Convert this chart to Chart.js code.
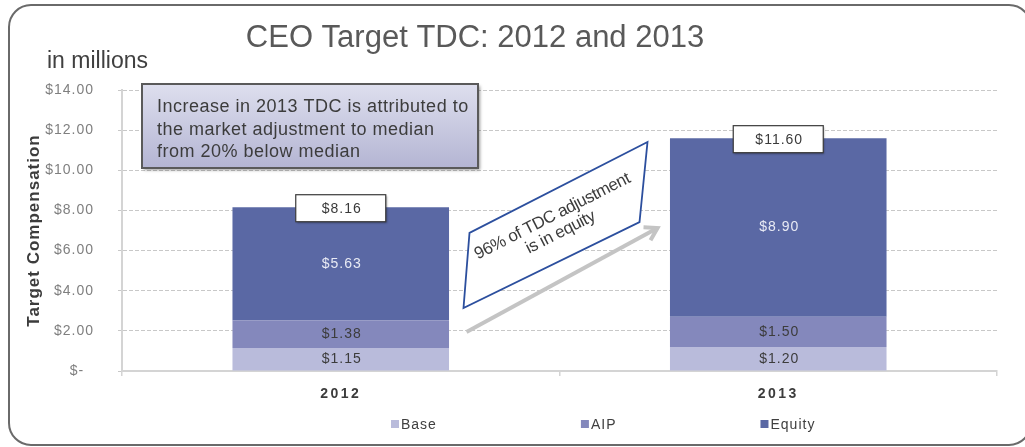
<!DOCTYPE html>
<html><head><meta charset="utf-8">
<script src="https://cdn.jsdelivr.net/npm/chart.js@4.4.0/dist/chart.umd.min.js"></script>
<style>html,body{margin:0;padding:0;background:#fff;overflow:hidden}</style>
</head><body>
<canvas id="c" width="1025" height="447" style="display:block;width:1025px;height:447px"></canvas>
<script>
const categories = ['2012', '2013'];
const seriesNames = ['Base', 'AIP', 'Equity'];
const baseValues = [1.15, 1.20];
const aipValues = [1.38, 1.50];
const equityValues = [5.63, 8.90];
const totalValues = [8.16, 11.60];
const yTickValues = [0, 2, 4, 6, 8, 10, 12, 14];
const titleText = 'CEO Target TDC: 2012 and 2013';
const unitText = 'in millions';
const yAxisTitle = 'Target Compensation';
const noteLines = ['Increase in 2013 TDC is attributed to', 'the market adjustment to median', 'from 20% below median'];
const calloutLines = ['96% of TDC adjustment', 'is in equity'];

const FONT = '"Liberation Sans", Arial, Helvetica, sans-serif';
const colors = ['#b9bbdb', '#8488bc', '#5a68a4'];
const labelColors = ['#3c3c3c', '#3c3c3c', '#e8eaf4'];
const money = v => '$' + v.toFixed(2);

const decor = {
  id: 'decor',
  beforeDraw(chart) {
    const ctx = chart.ctx;
    ctx.save();
    ctx.fillStyle = '#fff';
    ctx.fillRect(0, 0, chart.width, chart.height);
    ctx.strokeStyle = '#6a6a6a';
    ctx.lineWidth = 2;
    ctx.beginPath();
    ctx.roundRect(9, 5, 1022, 440, 22);
    ctx.stroke();
    ctx.restore();
    // letter spacing on axis labels
    ['x', 'y'].forEach(k => {
      const s = chart.scales[k];
      if (!s._patched) {
        const dl = s.drawLabels, dt = s.drawTitle;
        s.drawLabels = function (a) { ctx.save(); ctx.letterSpacing = k === 'x' ? '2.5px' : '1px'; dl.call(this, a); ctx.restore(); };
        s.drawTitle = function (a) { ctx.save(); ctx.letterSpacing = '1px'; dt.call(this, a); ctx.restore(); };
        s._patched = true;
      }
    });
  },
  afterDatasetsDraw(chart) {
    const ctx = chart.ctx;
    const xs = chart.scales.x, ys = chart.scales.y;
    ctx.save();
    // title and unit
    ctx.fillStyle = '#595959';
    ctx.textBaseline = 'alphabetic';
    ctx.textAlign = 'center';
    ctx.font = '31px ' + FONT;
    ctx.fillText(titleText, 475, 47);
    ctx.textAlign = 'left';
    ctx.font = '23px ' + FONT;
    ctx.fillStyle = '#404040';
    ctx.fillText(unitText, 47, 68);

    // segment labels
    ctx.font = '14px ' + FONT;
    ctx.letterSpacing = '1px';
    ctx.textAlign = 'center';
    ctx.textBaseline = 'middle';
    chart.data.datasets.forEach((ds, di) => {
      const meta = chart.getDatasetMeta(di);
      meta.data.forEach((bar, i) => {
        ctx.fillStyle = labelColors[di];
        ctx.fillText(money(ds.data[i]), bar.x + 1, (bar.y + bar.base) / 2);
      });
    });
    // total boxes
    const topMeta = chart.getDatasetMeta(chart.data.datasets.length - 1);
    topMeta.data.forEach((bar, i) => {
      const yTop = ys.getPixelForValue(totalValues[i]);
      const w = 90, h = 27;
      ctx.save();
      ctx.shadowColor = 'rgba(0,0,0,0.35)';
      ctx.shadowBlur = 2; ctx.shadowOffsetX = 1; ctx.shadowOffsetY = 1;
      ctx.fillStyle = '#fff';
      ctx.fillRect(bar.x - w / 2, yTop - h / 2 + 1, w, h);
      ctx.restore();
      ctx.strokeStyle = '#3a3a3a';
      ctx.lineWidth = 1.2;
      ctx.strokeRect(bar.x - w / 2, yTop - h / 2 + 1, w, h);
      ctx.fillStyle = '#3a3a3a';
      ctx.fillText(money(totalValues[i]), bar.x + 1, yTop + 2);
    });
    ctx.letterSpacing = '0px';

    // note box
    const nx = 142, ny = ys.getPixelForValue(14) - 6, nw = 336, nh = 84;
    const g = ctx.createLinearGradient(0, ny, 0, ny + nh);
    g.addColorStop(0, '#dedfee');
    g.addColorStop(1, '#b4b5d3');
    ctx.save();
    ctx.shadowColor = 'rgba(0,0,0,0.4)';
    ctx.shadowBlur = 3; ctx.shadowOffsetX = 2; ctx.shadowOffsetY = 2;
    ctx.fillStyle = g;
    ctx.fillRect(nx, ny, nw, nh);
    ctx.restore();
    ctx.strokeStyle = '#5a5a5a';
    ctx.lineWidth = 2;
    ctx.strokeRect(nx, ny, nw, nh);
    ctx.fillStyle = '#3c3c3c';
    ctx.font = '18px ' + FONT;
    ctx.letterSpacing = '0.5px';
    ctx.textAlign = 'left';
    ctx.textBaseline = 'alphabetic';
    noteLines.forEach((t, i) => ctx.fillText(t, 157, ny + 28 + i * 22.5));
    ctx.letterSpacing = '0px';

    // arrow between categories
    const mid = (xs.getPixelForValue(0) + xs.getPixelForValue(1)) / 2;
    const ax1 = mid - 93, ay1 = ys.getPixelForValue(1.94);
    const ax2 = mid + 98, ay2 = ys.getPixelForValue(7.12);
    ctx.strokeStyle = '#c4c4c4';
    ctx.lineWidth = 4;
    ctx.lineCap = 'butt';
    ctx.beginPath(); ctx.moveTo(ax1, ay1); ctx.lineTo(ax2, ay2); ctx.stroke();
    const ang = Math.atan2(ay2 - ay1, ax2 - ax1);
    ctx.lineJoin = 'miter';
    ctx.beginPath();
    ctx.moveTo(ax2 - 14 * Math.cos(ang - 0.55), ay2 - 14 * Math.sin(ang - 0.55));
    ctx.lineTo(ax2, ay2);
    ctx.lineTo(ax2 - 14 * Math.cos(ang + 0.55), ay2 - 14 * Math.sin(ang + 0.55));
    ctx.stroke();

    // callout parallelogram
    const pts = [[-96, 3.14], [-90, 6.88], [88, 11.41], [80, 7.42]];
    ctx.beginPath();
    pts.forEach((p, i) => {
      const px = mid + p[0], py = ys.getPixelForValue(p[1]);
      i ? ctx.lineTo(px, py) : ctx.moveTo(px, py);
    });
    ctx.closePath();
    ctx.fillStyle = '#fff';
    ctx.fill();
    ctx.strokeStyle = '#2c4f9e';
    ctx.lineWidth = 1.8;
    ctx.stroke();
    ctx.save();
    ctx.translate(mid - 3, ys.getPixelForValue(7.3));
    ctx.rotate(-0.47);
    ctx.fillStyle = '#3c3c3c';
    ctx.font = '17px ' + FONT;
    ctx.letterSpacing = '-0.4px';
    ctx.textAlign = 'center';
    ctx.textBaseline = 'middle';
    ctx.fillText(calloutLines[0], 0, -9);
    ctx.fillText(calloutLines[1], 0, 9);
    ctx.restore();

    // legend
    ctx.font = '14px ' + FONT;
    ctx.letterSpacing = '1px';
    ctx.textBaseline = 'middle';
    ctx.textAlign = 'left';
    let lx = 391;
    const ly = 424;
    chart.data.datasets.forEach((ds, di) => {
      ctx.fillStyle = ds.backgroundColor;
      ctx.fillRect(lx, ly - 4, 8, 8);
      ctx.fillStyle = '#404040';
      ctx.fillText(ds.label, lx + 10, ly + 1);
      lx += 10 + ctx.measureText(ds.label).width + 144;
    });
    ctx.restore();
  }
};

new Chart(document.getElementById('c'), {
  type: 'bar',
  data: {
    labels: categories,
    datasets: [
      { label: seriesNames[0], data: baseValues, backgroundColor: colors[0] },
      { label: seriesNames[1], data: aipValues, backgroundColor: colors[1] },
      { label: seriesNames[2], data: equityValues, backgroundColor: colors[2] }
    ]
  },
  options: {
    responsive: false,
    animation: false,
    devicePixelRatio: 1,
    categoryPercentage: 1,
    barPercentage: 0.495,
    layout: { padding: { left: 0, right: 28, top: 90, bottom: 0 } },
    plugins: { legend: { display: false }, tooltip: { enabled: false }, title: { display: false } },
    scales: {
      x: {
        stacked: true,
        grid: { display: true, drawOnChartArea: false, drawTicks: true, tickLength: 5, color: '#d4d4d4', lineWidth: 1.5 },
        border: { color: '#d4d4d4', width: 2 },
        ticks: { font: { family: FONT, size: 14, weight: 'bold' }, color: '#3c3c3c', padding: 10 },
        afterFit: s => { s.height = 76; }
      },
      y: {
        stacked: true,
        min: 0, max: 14,
        afterBuildTicks: s => { s.ticks = yTickValues.map(v => ({ value: v })); },
        ticks: { callback: v => v === 0 ? '$-  ' : money(v), font: { family: FONT, size: 14 }, color: '#7f7f7f', padding: 24 },
        grid: { color: '#c8c8c8', lineWidth: 1, tickColor: '#c8c8c8', tickLength: 4, drawTicks: true },
        border: { color: '#d4d4d4', width: 2, dash: [4, 2] },
        title: { display: true, text: yAxisTitle, font: { family: FONT, size: 17, weight: 'bold' }, color: '#3c3c3c', padding: { top: 24 } },
        afterFit: s => { s.width = 122; }
      }
    }
  },
  plugins: [decor]
});
</script>
</body></html>
